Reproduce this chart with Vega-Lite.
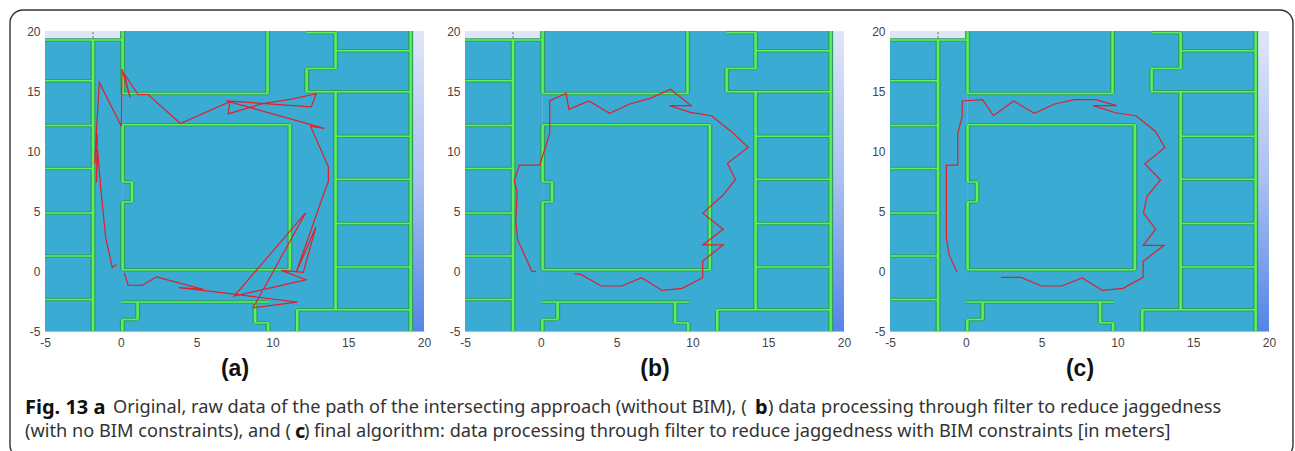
{"$schema":"https://vega.github.io/schema/vega-lite/v6.json","autosize":{"type":"pad"},"padding":{"left":9,"top":9,"right":1,"bottom":0},"background":"white","bounds":"flush","spacing":41,
"config":{"view":{"stroke":null},"axis":{"grid":false,"labelFont":"Liberation Sans","labelFontSize":12,"labelColor":"#444444","tickSize":0,"domainColor":"#b5b5b5","labelPadding":5,"labelFlush":false,"labelExpr":"toString(datum.value)","titleFont":"Liberation Sans","titleFontSize":23,"titleFontWeight":"bold","titleColor":"#111111","titlePadding":9},"axisX":{"labelPadding":6}},
"datasets":{
"plot":[{"x":-5,"x2":20,"y":-5,"y2":20}],
"rooms":[{"x":-5,"x2":0.1,"y":-5,"y2":19.3},{"x":0.1,"x2":19.26,"y":-5,"y2":20}],
"notch":[{"x":-1.83,"y":19.4,"y2":19.95}],
"wallsV":[{"x":-1.83,"y":19.25,"y2":-5},{"x":0.12,"y":20,"y2":14.8},{"x":9.68,"y":20,"y2":14.8},{"x":0.12,"y":12.18,"y2":7.42},{"x":0.74,"y":7.42,"y2":5.76},{"x":0.12,"y":5.76,"y2":0.11},{"x":11.15,"y":12.18,"y2":0.11},{"x":14.17,"y":19.86,"y2":16.88},{"x":12.26,"y":16.88,"y2":14.94},{"x":19.12,"y":20,"y2":-5},{"x":14.17,"y":14.94,"y2":-3.23},{"x":11.64,"y":-3.23,"y2":-5},{"x":1.11,"y":-2.59,"y2":-4.04},{"x":0.1,"y":-4.04,"y2":-5},{"x":8.86,"y":-2.59,"y2":-4.32},{"x":9.72,"y":-4.32,"y2":-5}],
"wallsH":[{"y":19.25,"x":-5,"x2":0.12},{"y":15.85,"x":-5,"x2":-1.83},{"y":12.13,"x":-5,"x2":-1.83},{"y":8.54,"x":-5,"x2":-1.83},{"y":4.84,"x":-5,"x2":-1.83},{"y":1.25,"x":-5,"x2":-1.83},{"y":-2.37,"x":-5,"x2":-1.83},{"y":14.8,"x":0.12,"x2":9.68},{"y":12.18,"x":0.12,"x2":11.15},{"y":7.42,"x":0.12,"x2":0.74},{"y":5.76,"x":0.12,"x2":0.74},{"y":0.11,"x":0.12,"x2":11.15},{"y":19.86,"x":12.26,"x2":14.17},{"y":16.88,"x":12.26,"x2":14.17},{"y":14.94,"x":12.26,"x2":19.12},{"y":18.36,"x":14.17,"x2":19.12},{"y":11.23,"x":14.17,"x2":19.12},{"y":7.65,"x":14.17,"x2":19.12},{"y":3.95,"x":14.17,"x2":19.12},{"y":0.33,"x":14.17,"x2":19.12},{"y":-3.23,"x":11.64,"x2":19.12},{"y":-2.59,"x":0.04,"x2":9.77},{"y":-4.04,"x":0.1,"x2":1.11},{"y":-4.32,"x":8.86,"x2":9.72}],
"pathA":[{"i":0,"x":-0.29,"y":0.55},{"i":1,"x":-0.56,"y":0.27},{"i":2,"x":-1.0,"y":2.83},{"i":3,"x":-1.31,"y":6.73},{"i":4,"x":-1.53,"y":10.07},{"i":5,"x":-1.61,"y":7.37},{"i":6,"x":-1.55,"y":11.4},{"i":7,"x":-1.73,"y":8.95},{"i":8,"x":-1.42,"y":15.72},{"i":9,"x":0.04,"y":12.07},{"i":10,"x":0.08,"y":16.83},{"i":11,"x":0.61,"y":14.46},{"i":12,"x":0.21,"y":16.47},{"i":13,"x":1.14,"y":14.71},{"i":14,"x":1.8,"y":14.71},{"i":15,"x":3.93,"y":12.29},{"i":16,"x":7.19,"y":14.1},{"i":17,"x":7.08,"y":13.1},{"i":18,"x":9.39,"y":13.96},{"i":19,"x":11.26,"y":14.32},{"i":20,"x":12.89,"y":14.77},{"i":21,"x":12.56,"y":13.68},{"i":22,"x":6.97,"y":14.18},{"i":23,"x":13.42,"y":11.88},{"i":24,"x":12.52,"y":12.07},{"i":25,"x":13.69,"y":8.68},{"i":26,"x":13.69,"y":7.42},{"i":27,"x":13.47,"y":6.73},{"i":28,"x":11.55,"y":-0.17},{"i":29,"x":12.87,"y":3.67},{"i":30,"x":12.04,"y":-0.11},{"i":31,"x":10.6,"y":0.05},{"i":32,"x":12.21,"y":-0.73},{"i":33,"x":7.48,"y":-2.09},{"i":34,"x":12.19,"y":4.84},{"i":35,"x":8.73,"y":-3.06},{"i":36,"x":11.64,"y":-2.59},{"i":37,"x":5.43,"y":-1.62},{"i":38,"x":3.82,"y":-1.39},{"i":39,"x":5.43,"y":-1.53},{"i":40,"x":2.35,"y":-0.5},{"i":41,"x":1.4,"y":-1.2},{"i":42,"x":0.48,"y":-1.17},{"i":43,"x":0.23,"y":-0.17}],
"pathB":[{"i":0,"x":-0.31,"y":-0.03},{"i":1,"x":-0.59,"y":-0.03},{"i":2,"x":-1.52,"y":2.59},{"i":3,"x":-1.65,"y":4.12},{"i":4,"x":-1.56,"y":6.63},{"i":5,"x":-1.76,"y":7.5},{"i":6,"x":-1.41,"y":8.83},{"i":7,"x":-0.07,"y":8.83},{"i":8,"x":0.59,"y":11.47},{"i":9,"x":0.59,"y":14.19},{"i":10,"x":1.67,"y":14.81},{"i":11,"x":1.85,"y":13.47},{"i":12,"x":3.17,"y":14.17},{"i":13,"x":4.54,"y":13.14},{"i":14,"x":5.86,"y":13.92},{"i":15,"x":7.22,"y":14.39},{"i":16,"x":8.55,"y":15.14},{"i":17,"x":9.91,"y":13.78},{"i":18,"x":8.5,"y":13.78},{"i":19,"x":9.87,"y":13.22},{"i":20,"x":11.26,"y":12.94},{"i":21,"x":12.58,"y":11.61},{"i":22,"x":13.68,"y":10.31},{"i":23,"x":12.31,"y":8.97},{"i":24,"x":12.84,"y":7.64},{"i":25,"x":12.03,"y":6.33},{"i":26,"x":10.68,"y":4.82},{"i":27,"x":12.03,"y":3.48},{"i":28,"x":10.68,"y":2.17},{"i":29,"x":12.03,"y":2.17},{"i":30,"x":10.68,"y":0.84},{"i":31,"x":10.68,"y":-0.56},{"i":32,"x":9.32,"y":-1.45},{"i":33,"x":8.0,"y":-1.62},{"i":34,"x":6.65,"y":-0.56},{"i":35,"x":5.33,"y":-1.25},{"i":36,"x":3.99,"y":-1.25},{"i":37,"x":2.64,"y":-0.28},{"i":38,"x":2.22,"y":-0.22}],
"pathC":[{"i":0,"x":-0.51,"y":0},{"i":1,"x":-0.62,"y":0},{"i":2,"x":-1.1,"y":1.36},{"i":3,"x":-1.28,"y":2.67},{"i":4,"x":-1.28,"y":8.83},{"i":5,"x":-0.53,"y":8.83},{"i":6,"x":-0.53,"y":11.47},{"i":7,"x":-0.24,"y":12.86},{"i":8,"x":-0.24,"y":14.17},{"i":9,"x":1.1,"y":14.28},{"i":10,"x":1.83,"y":12.94},{"i":11,"x":3.15,"y":14.17},{"i":12,"x":4.52,"y":13.14},{"i":13,"x":5.86,"y":13.92},{"i":14,"x":7.16,"y":14.28},{"i":15,"x":8.55,"y":14.28},{"i":16,"x":9.96,"y":13.78},{"i":17,"x":8.41,"y":13.78},{"i":18,"x":9.87,"y":13.19},{"i":19,"x":11.23,"y":12.94},{"i":20,"x":12.53,"y":11.61},{"i":21,"x":13.13,"y":10.28},{"i":22,"x":11.81,"y":8.94},{"i":23,"x":12.84,"y":7.58},{"i":24,"x":11.96,"y":6.25},{"i":25,"x":11.72,"y":4.82},{"i":26,"x":12.53,"y":3.48},{"i":27,"x":11.7,"y":2.14},{"i":28,"x":13.08,"y":2.14},{"i":29,"x":11.7,"y":0.81},{"i":30,"x":11.7,"y":-0.53},{"i":31,"x":10.37,"y":-1.45},{"i":32,"x":9.01,"y":-1.62},{"i":33,"x":7.67,"y":-0.58},{"i":34,"x":6.34,"y":-1.25},{"i":35,"x":4.98,"y":-1.25},{"i":36,"x":3.66,"y":-0.53},{"i":37,"x":2.31,"y":-0.53}],
"frame":[{"x":-7.31,"x2":77.32,"y":21.75,"y2":-15.58}],
"capRegular":[{"label":"Original, raw data of the path of the intersecting approach (without BIM), (","x":-0.51,"y":-11.42},{"label":") data processing through filter to reduce jaggedness","x":42.69,"y":-11.42},{"label":"(with no BIM constraints), and (","x":-6.32,"y":-13.42},{"label":") final algorithm: data processing through filter to reduce jaggedness with BIM constraints [in meters]","x":12.08,"y":-13.42}],
"capBold":[{"label":"Fig. 13 a","x":-6.32,"y":-11.42},{"label":"b","x":41.83,"y":-11.42},{"label":"c","x":11.49,"y":-13.42}]
},
"hconcat":[
{"width":379,"height":300,
"encoding":{"x":{"field":"x","type":"quantitative","scale":{"domain":[-5,20],"nice":false,"zero":false},"axis":{"title":"(a)","values":[-5,0,5,10,15,20]}},"y":{"field":"y","type":"quantitative","scale":{"domain":[-5,20],"nice":false,"zero":false},"axis":{"title":null,"values":[-5,0,5,10,15,20]}}},
"layer":[
{"data":{"name":"plot"},"mark":{"type":"rect","fill":{"gradient":"linear","x1":0,"y1":0,"x2":0,"y2":1,"stops":[{"offset":0,"color":"#dfe6f8"},{"offset":0.5,"color":"#a9c0f0"},{"offset":1,"color":"#5585e8"}]}},"encoding":{"x2":{"field":"x2"},"y2":{"field":"y2"}}},
{"data":{"name":"rooms"},"mark":{"type":"rect","fill":"#3aabd3"},"encoding":{"x2":{"field":"x2"},"y2":{"field":"y2"}}},
{"data":{"name":"notch"},"mark":{"type":"rule","stroke":"#666666","strokeWidth":1,"strokeDash":[2,2]},"encoding":{"y2":{"field":"y2"}}},
{"data":{"name":"wallsV"},"mark":{"type":"rule","stroke":"#2f9e62","strokeWidth":5},"encoding":{"y2":{"field":"y2"}}},
{"data":{"name":"wallsH"},"mark":{"type":"rule","stroke":"#2f9e62","strokeWidth":3.5},"encoding":{"x2":{"field":"x2"}}},
{"data":{"name":"wallsV"},"mark":{"type":"rule","stroke":"#5cf05c","strokeWidth":2.5},"encoding":{"y2":{"field":"y2"}}},
{"data":{"name":"wallsH"},"mark":{"type":"rule","stroke":"#5cf05c","strokeWidth":1.5},"encoding":{"x2":{"field":"x2"}}},
{"data":{"name":"pathA"},"mark":{"type":"line","stroke":"#e0202c","strokeWidth":1.2},"encoding":{"order":{"field":"i"}}},
{"data":{"name":"frame"},"mark":{"type":"rect","fill":null,"stroke":"#333333","strokeWidth":1.4,"cornerRadius":13},"encoding":{"x2":{"field":"x2"},"y2":{"field":"y2"}}},
{"data":{"name":"capRegular"},"mark":{"type":"text","align":"left","baseline":"middle","font":"Noto Sans","fontSize":18.2,"color":"#333333"},"encoding":{"text":{"field":"label"}}},
{"data":{"name":"capBold"},"mark":{"type":"text","align":"left","baseline":"middle","font":"Noto Sans","fontSize":20,"fontWeight":"bold","color":"#111111"},"encoding":{"text":{"field":"label"}}}
]},
{"width":379,"height":300,
"encoding":{"x":{"field":"x","type":"quantitative","scale":{"domain":[-5,20],"nice":false,"zero":false},"axis":{"title":"(b)","values":[-5,0,5,10,15,20]}},"y":{"field":"y","type":"quantitative","scale":{"domain":[-5,20],"nice":false,"zero":false},"axis":{"title":null,"values":[-5,0,5,10,15,20]}}},
"layer":[
{"data":{"name":"plot"},"mark":{"type":"rect","fill":{"gradient":"linear","x1":0,"y1":0,"x2":0,"y2":1,"stops":[{"offset":0,"color":"#dfe6f8"},{"offset":0.5,"color":"#a9c0f0"},{"offset":1,"color":"#5585e8"}]}},"encoding":{"x2":{"field":"x2"},"y2":{"field":"y2"}}},
{"data":{"name":"rooms"},"mark":{"type":"rect","fill":"#3aabd3"},"encoding":{"x2":{"field":"x2"},"y2":{"field":"y2"}}},
{"data":{"name":"notch"},"mark":{"type":"rule","stroke":"#666666","strokeWidth":1,"strokeDash":[2,2]},"encoding":{"y2":{"field":"y2"}}},
{"data":{"name":"wallsV"},"mark":{"type":"rule","stroke":"#2f9e62","strokeWidth":5},"encoding":{"y2":{"field":"y2"}}},
{"data":{"name":"wallsH"},"mark":{"type":"rule","stroke":"#2f9e62","strokeWidth":3.5},"encoding":{"x2":{"field":"x2"}}},
{"data":{"name":"wallsV"},"mark":{"type":"rule","stroke":"#5cf05c","strokeWidth":2.5},"encoding":{"y2":{"field":"y2"}}},
{"data":{"name":"wallsH"},"mark":{"type":"rule","stroke":"#5cf05c","strokeWidth":1.5},"encoding":{"x2":{"field":"x2"}}},
{"data":{"name":"pathB"},"mark":{"type":"line","stroke":"#e0202c","strokeWidth":1.2},"encoding":{"order":{"field":"i"}}}
]},
{"width":384,"height":300,
"encoding":{"x":{"field":"x","type":"quantitative","scale":{"domain":[-5,20],"range":[5,384],"nice":false,"zero":false},"axis":{"title":"(c)","values":[-5,0,5,10,15,20]}},"y":{"field":"y","type":"quantitative","scale":{"domain":[-5,20],"nice":false,"zero":false},"axis":{"title":null,"offset":-5,"values":[-5,0,5,10,15,20]}}},
"layer":[
{"data":{"name":"plot"},"mark":{"type":"rect","fill":{"gradient":"linear","x1":0,"y1":0,"x2":0,"y2":1,"stops":[{"offset":0,"color":"#dfe6f8"},{"offset":0.5,"color":"#a9c0f0"},{"offset":1,"color":"#5585e8"}]}},"encoding":{"x2":{"field":"x2"},"y2":{"field":"y2"}}},
{"data":{"name":"rooms"},"mark":{"type":"rect","fill":"#3aabd3"},"encoding":{"x2":{"field":"x2"},"y2":{"field":"y2"}}},
{"data":{"name":"notch"},"mark":{"type":"rule","stroke":"#666666","strokeWidth":1,"strokeDash":[2,2]},"encoding":{"y2":{"field":"y2"}}},
{"data":{"name":"wallsV"},"mark":{"type":"rule","stroke":"#2f9e62","strokeWidth":5},"encoding":{"y2":{"field":"y2"}}},
{"data":{"name":"wallsH"},"mark":{"type":"rule","stroke":"#2f9e62","strokeWidth":3.5},"encoding":{"x2":{"field":"x2"}}},
{"data":{"name":"wallsV"},"mark":{"type":"rule","stroke":"#5cf05c","strokeWidth":2.5},"encoding":{"y2":{"field":"y2"}}},
{"data":{"name":"wallsH"},"mark":{"type":"rule","stroke":"#5cf05c","strokeWidth":1.5},"encoding":{"x2":{"field":"x2"}}},
{"data":{"name":"pathC"},"mark":{"type":"line","stroke":"#e0202c","strokeWidth":1.2},"encoding":{"order":{"field":"i"}}}
]}
]}
